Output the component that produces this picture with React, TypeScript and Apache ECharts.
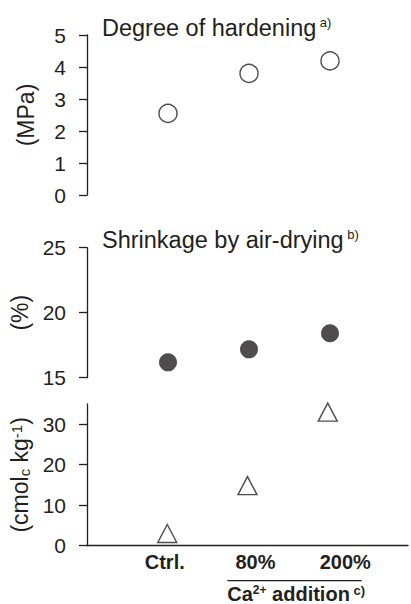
import React, { useEffect, useRef } from 'react';
import * as echarts from 'echarts';

// ---- data ----
const categories = ['Ctrl.', '80%', '200%'];
const hardeningMPa = [2.55, 3.8, 4.19];
const shrinkagePct = [16.18, 17.18, 18.42];
const caExchange = [3.0, 14.85, 33.0];
const caTicks = [0, 10, 20, 30];
const titleA = 'Degree of hardening';
const titleB = 'Shrinkage by air-drying';

const INK = '#231f20';
const REG = '"Liberation Sans", Arial, Helvetica, sans-serif';

const xData = ['', ...categories, ''];

const pairs = (vals: number[]) => vals.map((v, i) => [categories[i], v]);

const yBase = (extra: any) => ({
  type: 'value',
  axisLine: { show: true, lineStyle: { color: INK, width: 1.3 } },
  axisTick: { show: true, length: 8, lineStyle: { color: INK, width: 1.3 } },
  axisLabel: { margin: 21, color: INK, fontSize: 21, fontFamily: REG },
  splitLine: { show: false },
  nameLocation: 'middle',
  nameGap: 50,
  nameTextStyle: { fontSize: 23, color: INK, fontFamily: REG },
  ...extra,
});

const xHidden = (gridIndex: number) => ({
  type: 'category',
  gridIndex,
  data: xData,
  boundaryGap: false,
  show: false,
});

const titleRich = {
  m: { fontSize: 23.5, fontFamily: REG, fill: INK, verticalAlign: 'middle' },
  s: { fontSize: 13, fontFamily: REG, fill: INK, verticalAlign: 'top', lineHeight: 19 },
};

export default function App() {
  const ref = useRef<HTMLDivElement>(null);
  useEffect(() => {
    const chart = echarts.init(ref.current!, null, { renderer: 'svg' });
    const labelFont = { fontSize: 20, fontWeight: 'bold', fontFamily: REG, color: INK };
    const option: any = {
      animation: false,
      backgroundColor: '#fff',
      grid: [
        { left: 87, top: 35, width: 326, height: 160 },
        { left: 87, top: 247.7, width: 326, height: 130 },
        { left: 87, top: 404, width: 326, height: 141.7 },
      ],
      xAxis: [
        xHidden(0),
        xHidden(1),
        {
          type: 'category',
          gridIndex: 2,
          data: xData,
          boundaryGap: false,
          axisLine: { show: true, lineStyle: { color: INK, width: 1.3 } },
          axisTick: { show: false },
          axisLabel: {
            interval: 0,
            margin: 6,
            ...labelFont,
            formatter: (v: string) => {
              const i = categories.indexOf(v);
              return i < 0 ? '' : `{c${i}|${v}}`;
            },
            rich: {
              c0: { ...labelFont, padding: [0, 5, 0, 0] },
              c1: { ...labelFont, padding: [0, 0, 0, 16] },
              c2: { ...labelFont, padding: [0, 0, 0, 35] },
            },
          },
          splitLine: { show: false },
        },
      ],
      yAxis: [
        yBase({ gridIndex: 0, min: 0, max: 5, interval: 1, name: '(MPa)' }),
        yBase({ gridIndex: 1, min: 15, max: 25, interval: 5, name: '(%)' }),
        yBase({
          gridIndex: 2,
          min: 0,
          max: 35,
          name: '(cmol{sub|c} kg{sup|-1})',
          axisTick: { show: true, length: 8, customValues: caTicks, lineStyle: { color: INK, width: 1.3 } },
          axisLabel: { margin: 21, color: INK, fontSize: 21, fontFamily: REG, customValues: caTicks },
          nameTextStyle: {
            fontSize: 23,
            color: INK,
            fontFamily: REG,
            rich: {
              sub: { fontSize: 15, fontFamily: REG, color: INK, verticalAlign: 'bottom', lineHeight: 6 },
              sup: { fontSize: 15, fontFamily: REG, color: INK, verticalAlign: 'top', lineHeight: 8 },
            },
          },
        }),
      ],
      series: [
        {
          type: 'scatter',
          xAxisIndex: 0,
          yAxisIndex: 0,
          data: pairs(hardeningMPa),
          symbol: 'circle',
          symbolSize: 18,
          itemStyle: { color: '#fff', borderColor: INK, borderWidth: 1.4 },
        },
        {
          type: 'scatter',
          xAxisIndex: 1,
          yAxisIndex: 1,
          data: pairs(shrinkagePct),
          symbol: 'circle',
          symbolSize: 18,
          itemStyle: { color: INK },
        },
        {
          type: 'scatter',
          xAxisIndex: 2,
          yAxisIndex: 2,
          data: pairs(caExchange),
          symbol: 'triangle',
          symbolSize: [19, 18],
          itemStyle: { color: '#fff', borderColor: INK, borderWidth: 1.4 },
        },
      ],
      graphic: [
        {
          type: 'text',
          x: 102,
          y: 27.7,
          style: {
            text: `{m|${titleA}}{s| a)}`,
            align: 'left',
            verticalAlign: 'middle',
            rich: titleRich,
          },
        },
        {
          type: 'text',
          x: 102,
          y: 239.7,
          style: {
            text: `{m|${titleB}}{s| b)}`,
            align: 'left',
            verticalAlign: 'middle',
            rich: titleRich,
          },
        },
        {
          type: 'line',
          shape: { x1: 227.3, y1: 580.7, x2: 361.7, y2: 580.7 },
          style: { stroke: INK, lineWidth: 1.3 },
        },
        {
          type: 'text',
          x: 227.3,
          y: 594,
          style: {
            text: '{m|Ca}{s|2+}{m| addition}{c| c)}',
            align: 'left',
            verticalAlign: 'middle',
            rich: {
              m: { fontSize: 20, fontWeight: 'bold', fontFamily: REG, fill: INK, lineHeight: 20, verticalAlign: 'middle' },
              s: { fontSize: 12, fontWeight: 'bold', fontFamily: REG, fill: INK, lineHeight: 12, verticalAlign: 'top' },
              c: { fontSize: 13, fontWeight: 'bold', fontFamily: REG, fill: INK, lineHeight: 16, verticalAlign: 'top' },
            },
          },
        },
      ],
    };
    chart.setOption(option);
    return () => chart.dispose();
  }, []);
  return (
    <div
      ref={ref}
      style={{ position: 'absolute', left: 0, top: 0, width: 411, height: 604, background: '#fff' }}
    />
  );
}
